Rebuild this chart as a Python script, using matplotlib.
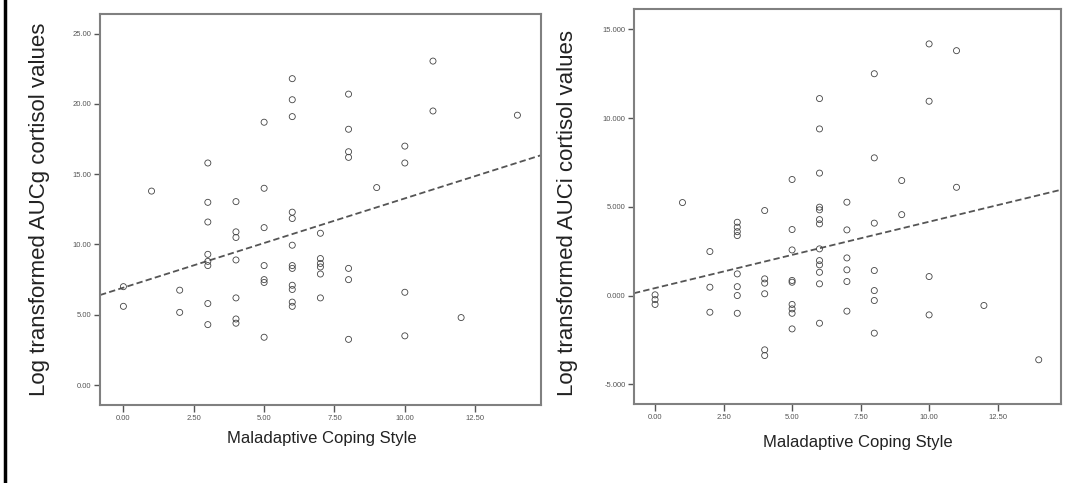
import numpy as np
import matplotlib.pyplot as plt

plt.rcParams['font.family'] = ['Liberation Sans', 'DejaVu Sans']

# AUCg panel (left)
aucg_x = [0, 0,
          1,
          2, 2,
          3, 3, 3, 3, 3, 3, 3, 3,
          4, 4, 4, 4, 4, 4, 4,
          5, 5, 5, 5, 5, 5, 5,
          6, 6, 6, 6, 6, 6, 6, 6, 6, 6, 6, 6,
          7, 7, 7, 7, 7, 7,
          8, 8, 8, 8, 8, 8, 8,
          9,
          10, 10, 10, 10,
          11, 11,
          12,
          14]
aucg_y = [7.0, 5.6,
          13.8,
          6.75, 5.17,
          15.8, 13.0, 11.6, 9.3, 8.8, 8.5, 5.8, 4.3,
          13.05, 10.9, 10.5, 8.9, 6.2, 4.7, 4.4,
          18.7, 14.0, 11.2, 8.5, 7.5, 7.3, 3.4,
          21.8, 20.3, 19.1, 12.3, 11.85, 9.95, 8.5, 8.3, 7.1, 6.8, 5.9, 5.6,
          10.8, 9.0, 8.65, 8.4, 7.9, 6.2,
          20.7, 18.2, 16.6, 16.2, 8.3, 7.5, 3.25,
          14.05,
          17.0, 15.8, 6.6, 3.5,
          23.05, 19.5,
          4.8,
          19.2]
aucg_fit = [6.93, 0.635]   # intercept, slope
aucg_yticks = [0, 5, 10, 15, 20, 25]

# AUCi panel (right)
auci_x = [0, 0, 0,
          1,
          2, 2, 2,
          3, 3, 3, 3, 3, 3, 3, 3,
          4, 4, 4, 4, 4, 4,
          5, 5, 5, 5, 5, 5, 5, 5, 5,
          6, 6, 6, 6, 6, 6, 6, 6, 6, 6, 6, 6, 6,
          7, 7, 7, 7, 7, 7,
          8, 8, 8, 8, 8, 8, 8,
          9, 9,
          10, 10, 10, 10,
          11, 11,
          12,
          14]
auci_y = [0.04, -0.23, -0.5,
          5.24,
          2.48, 0.47, -0.94,
          4.13, 3.85, 3.6, 3.38, 1.22, 0.5, 0.0, -1.0,
          4.79, 0.94, 0.7, 0.1, -3.06, -3.38,
          6.54, 3.72, 2.57, 0.85, 0.75, -0.5, -0.75, -1.0, -1.88,
          11.1, 9.39, 6.9, 4.98, 4.83, 4.28, 4.04, 2.63, 1.97, 1.73, 1.31, 0.66, -1.56,
          5.26, 3.7, 2.12, 1.45, 0.79, -0.88,
          12.5, 7.76, 4.08, 1.41, 0.28, -0.28, -2.12,
          6.48, 4.56,
          14.18, 10.95, 1.07, -1.09,
          13.8, 6.1,
          -0.56,
          -3.62]
auci_fit = [0.42, 0.374]
auci_yticks = [-5, 0, 5, 10, 15]

xticks = [0, 2.5, 5, 7.5, 10, 12.5]


def scatter_panel(ax, x, y, fit, yticks, ydec, xlim, ylim):
    ax.scatter(x, y, s=19, facecolors='none', edgecolors='#444444', linewidths=0.6, zorder=3)
    xs = np.array(xlim)
    ax.plot(xs, fit[0] + fit[1] * xs, color='#555555', lw=1.3, ls=(0, (3.5, 1.8)), zorder=2)
    ax.set_xlim(xlim)
    ax.set_ylim(ylim)
    ax.set_xticks(xticks)
    ax.set_xticklabels(['%.2f' % t for t in xticks])
    ax.set_yticks(yticks)
    ax.set_yticklabels([('%.' + str(ydec) + 'f') % t for t in yticks])
    ax.tick_params(axis='both', labelsize=5.5, colors='#555555', length=4, width=1, pad=2)
    ax.tick_params(axis='x', length=5)
    for s in ax.spines.values():
        s.set_color('#808080')
        s.set_linewidth(1.5)


fig = plt.figure(figsize=(10.78, 4.83), dpi=100)

ax1 = fig.add_axes([0.0928, 0.1615, 0.4091, 0.8095])
scatter_panel(ax1, aucg_x, aucg_y, aucg_fit, aucg_yticks, 2, (-0.83, 14.84), (-1.42, 26.4))

ax2 = fig.add_axes([0.5881, 0.1629, 0.3958, 0.8178])
scatter_panel(ax2, auci_x, auci_y, auci_fit, auci_yticks, 3, (-0.77, 14.8), (-6.13, 16.13))

# axis titles placed by hand to match the layout
fig.text(40 / 1078, 1 - 209 / 483, 'Log transformed AUCg cortisol values', rotation=90,
         ha='center', va='center', fontsize=16, color='#222222')
fig.text(567 / 1078, 1 - 213 / 483, 'Log transformed AUCi cortisol values', rotation=90,
         ha='center', va='center', fontsize=16, color='#222222')
fig.text(322 / 1078, 1 - 438 / 483, 'Maladaptive Coping Style', ha='center', va='center',
         fontsize=12, color='#222222')
fig.text(858 / 1078, 1 - 443 / 483, 'Maladaptive Coping Style', ha='center', va='center',
         fontsize=12, color='#222222')

# black frame line at the left edge
fig.add_artist(plt.Line2D([5 / 1078, 5 / 1078], [0, 1], color='black', lw=2.5))

fig.savefig('out.png', dpi=100)
